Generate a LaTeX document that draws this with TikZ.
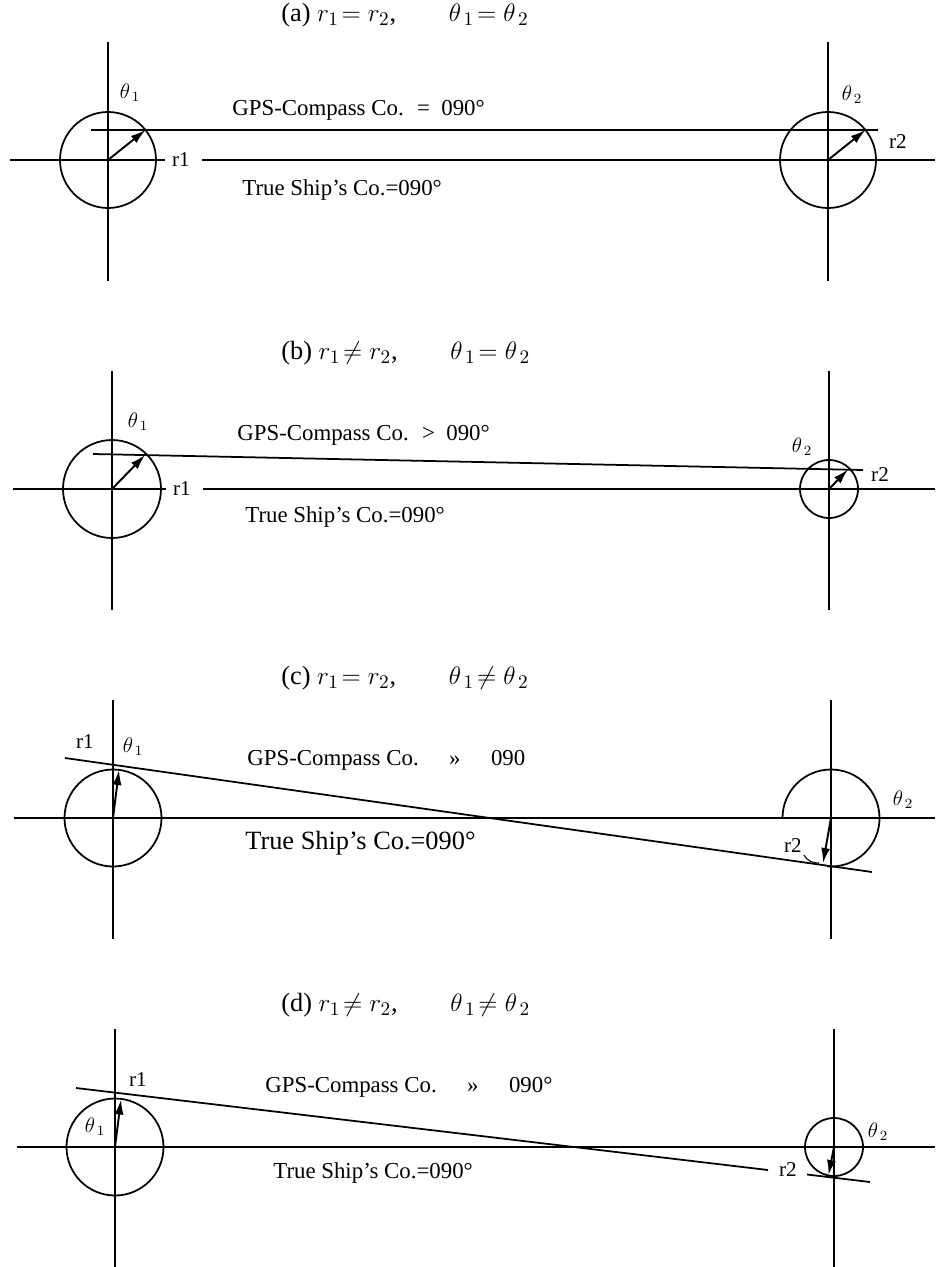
\documentclass[tikz,border=0pt]{standalone}
\usepackage{amsmath}
\usepackage{fontspec}
\setmainfont{Liberation Serif}
\usetikzlibrary{arrows.meta,calc}
\tikzset{
  >={Latex[length=3mm,width=1.8mm]},
  axis/.style={draw=black,line width=1pt},
  course/.style={draw=black,line width=1pt},
  dial/.style={draw=black,line width=1pt},
  vec/.style={->,draw=black,line width=1.1pt},
  leader/.style={draw=black,line width=0.6pt},
  caption/.style={font=\fontsize{15}{17}\selectfont,anchor=west,inner sep=0pt},
  cotext/.style={font=\fontsize{13}{15}\selectfont,anchor=west,inner sep=0pt},
  lbl/.style={font=\fontsize{12}{14}\selectfont,inner sep=1pt}
}
% vertical axis through a dial centre
\newcommand{\crossaxis}[3]{%
  \coordinate (#1) at (#2,#3);
  \draw[axis] ($(#1)+(0,2.36)$) -- ($(#1)+(0,-2.42)$);
}

\begin{document}
\begin{tikzpicture}[x=1cm,y=1cm]
  \useasboundingbox (0,0) rectangle (18.74,-25.34);

  % Panel (a)
  \node[caption] (capa) at (5.62,-0.30)
    {(a) $r_1\!= r_2$,\qquad $\theta_{\,1}\!= \theta_{\,2}$};
  \crossaxis{oa1}{2.16}{-3.20}
  \crossaxis{oa2}{16.56}{-3.20}
  \draw[dial] (oa1) circle (0.96);
  \draw[dial] (oa2) circle (0.96);
  \node[lbl] (rla) at (3.62,-3.20) {r1};
  \draw[axis] (0.20,-3.20) -- ([xshift=-3pt]rla.west);
  \draw[axis] ([xshift=6pt]rla.east) -- (18.70,-3.20);
  \draw[course] (1.82,-2.60) -- (17.56,-2.60);
  \coordinate (ta1) at (2.91,-2.60);
  \coordinate (ta2) at (17.31,-2.60);
  \draw[vec] (oa1) -- (ta1);
  \draw[vec] (oa2) -- (ta2);
  \node[lbl] (tha1) at (2.60,-1.86) {$\theta_{\,1}$};
  \node[lbl] (tha2) at (17.04,-1.90) {$\theta_{\,2}$};
  \node[lbl] (r2a) at (17.96,-2.84) {r2};
  \node[cotext] (gpsa) at (4.64,-2.20) {GPS-Compass Co. \ = \ 090°};
  \node[cotext] (truea) at (4.84,-3.80) {True Ship's Co.=090°};

  % Panel (b)
  \node[caption] (capb) at (5.62,-7.06)
    {(b) $r_1\!\neq r_2$,\qquad $\theta_{\,1}\!= \theta_{\,2}$};
  \crossaxis{ob1}{2.24}{-9.78}
  \crossaxis{ob2}{16.58}{-9.78}
  \draw[dial] (ob1) circle (0.98);
  \draw[dial] (ob2) circle (0.58);
  \node[lbl] (rlb) at (3.64,-9.78) {r1};
  \draw[axis] (0.26,-9.78) -- ([xshift=-3pt]rlb.west);
  \draw[axis] ([xshift=6pt]rlb.east) -- (18.70,-9.78);
  \draw[course] (1.86,-9.08) -- (17.26,-9.40);
  \coordinate (tb1) at (2.90,-9.10);
  \coordinate (tb2) at (16.96,-9.39);
  \draw[vec] (ob1) -- (tb1);
  \draw[vec] (ob2) -- (tb2);
  \node[lbl] (thb1) at (2.76,-8.44) {$\theta_{\,1}$};
  \node[lbl] (thb2) at (16.04,-8.94) {$\theta_{\,2}$};
  \node[lbl] (r2b) at (17.60,-9.50) {r2};
  \node[cotext] (gpsb) at (4.74,-8.70) {GPS-Compass Co. \ > \ 090°};
  \node[cotext] (trueb) at (4.90,-10.34) {True Ship's Co.=090°};

  % Panel (c)
  \node[caption] (capc) at (5.62,-13.56)
    {(c) $r_1\!= r_2$,\qquad $\theta_{\,1}\!\neq \theta_{\,2}$};
  \crossaxis{oc1}{2.26}{-16.36}
  \crossaxis{oc2}{16.62}{-16.36}
  \draw[axis] (0.28,-16.36) -- (18.70,-16.36);
  \draw[dial] (oc1) circle (0.97);
  \draw[dial] ($(oc2)+(-0.97,0)$) arc[start angle=180,end angle=-95,radius=0.97];
  \draw[course] (1.30,-15.16) -- (17.44,-17.44);
  \coordinate (tc1) at (2.38,-15.40);
  \coordinate (tc2) at (16.46,-17.26);
  \draw[vec] (oc1) -- (tc1);
  \draw[vec] (oc2) -- (tc2);
  \node[lbl] (rlc) at (1.70,-14.84) {r1};
  \node[lbl] (thc1) at (2.66,-14.94) {$\theta_{\,1}$};
  \node[lbl] (thc2) at (18.06,-16.00) {$\theta_{\,2}$};
  \node[lbl] (r2c) at (15.86,-16.92) {r2};
  \draw[leader] (r2c.south east) to[bend right=30] ($(tc2)+(-0.08,0)$);
  \node[cotext] (gpsc) at (4.94,-15.20) {GPS-Compass Co. \quad » \quad 090};
  \node[cotext,font=\fontsize{15}{17}\selectfont] (truec) at (4.90,-16.86)
    {True Ship's Co.=090°};

  % Panel (d)
  \node[caption] (capd) at (5.62,-20.10)
    {(d) $r_1\!\neq r_2$,\qquad $\theta_{\,1}\!\neq \theta_{\,2}$};
  \crossaxis{od1}{2.30}{-22.94}
  \crossaxis{od2}{16.68}{-22.94}
  \draw[axis] (0.34,-22.94) -- (18.70,-22.94);
  \draw[dial] (od1) circle (0.97);
  \draw[dial] (od2) circle (0.58);
  \draw[course] (1.52,-21.76) -- (15.36,-23.40);
  \draw[course] (16.14,-23.49) -- (17.40,-23.64);
  \coordinate (td1) at (2.42,-21.99);
  \coordinate (td2) at (16.57,-23.50);
  \draw[vec] (od1) -- (td1);
  \draw[vec] (od2) -- (td2);
  \node[lbl] (rld) at (2.76,-21.60) {r1};
  \node[lbl] (thd1) at (1.90,-22.54) {$\theta_{\,1}$};
  \node[lbl] (thd2) at (17.56,-22.64) {$\theta_{\,2}$};
  \node[lbl] (r2d) at (15.76,-23.40) {r2};
  \node[cotext] (gpsd) at (5.30,-21.74) {GPS-Compass Co. \quad » \quad 090°};
  \node[cotext] (trued) at (5.46,-23.46) {True Ship's Co.=090°};
\end{tikzpicture}
\end{document}
